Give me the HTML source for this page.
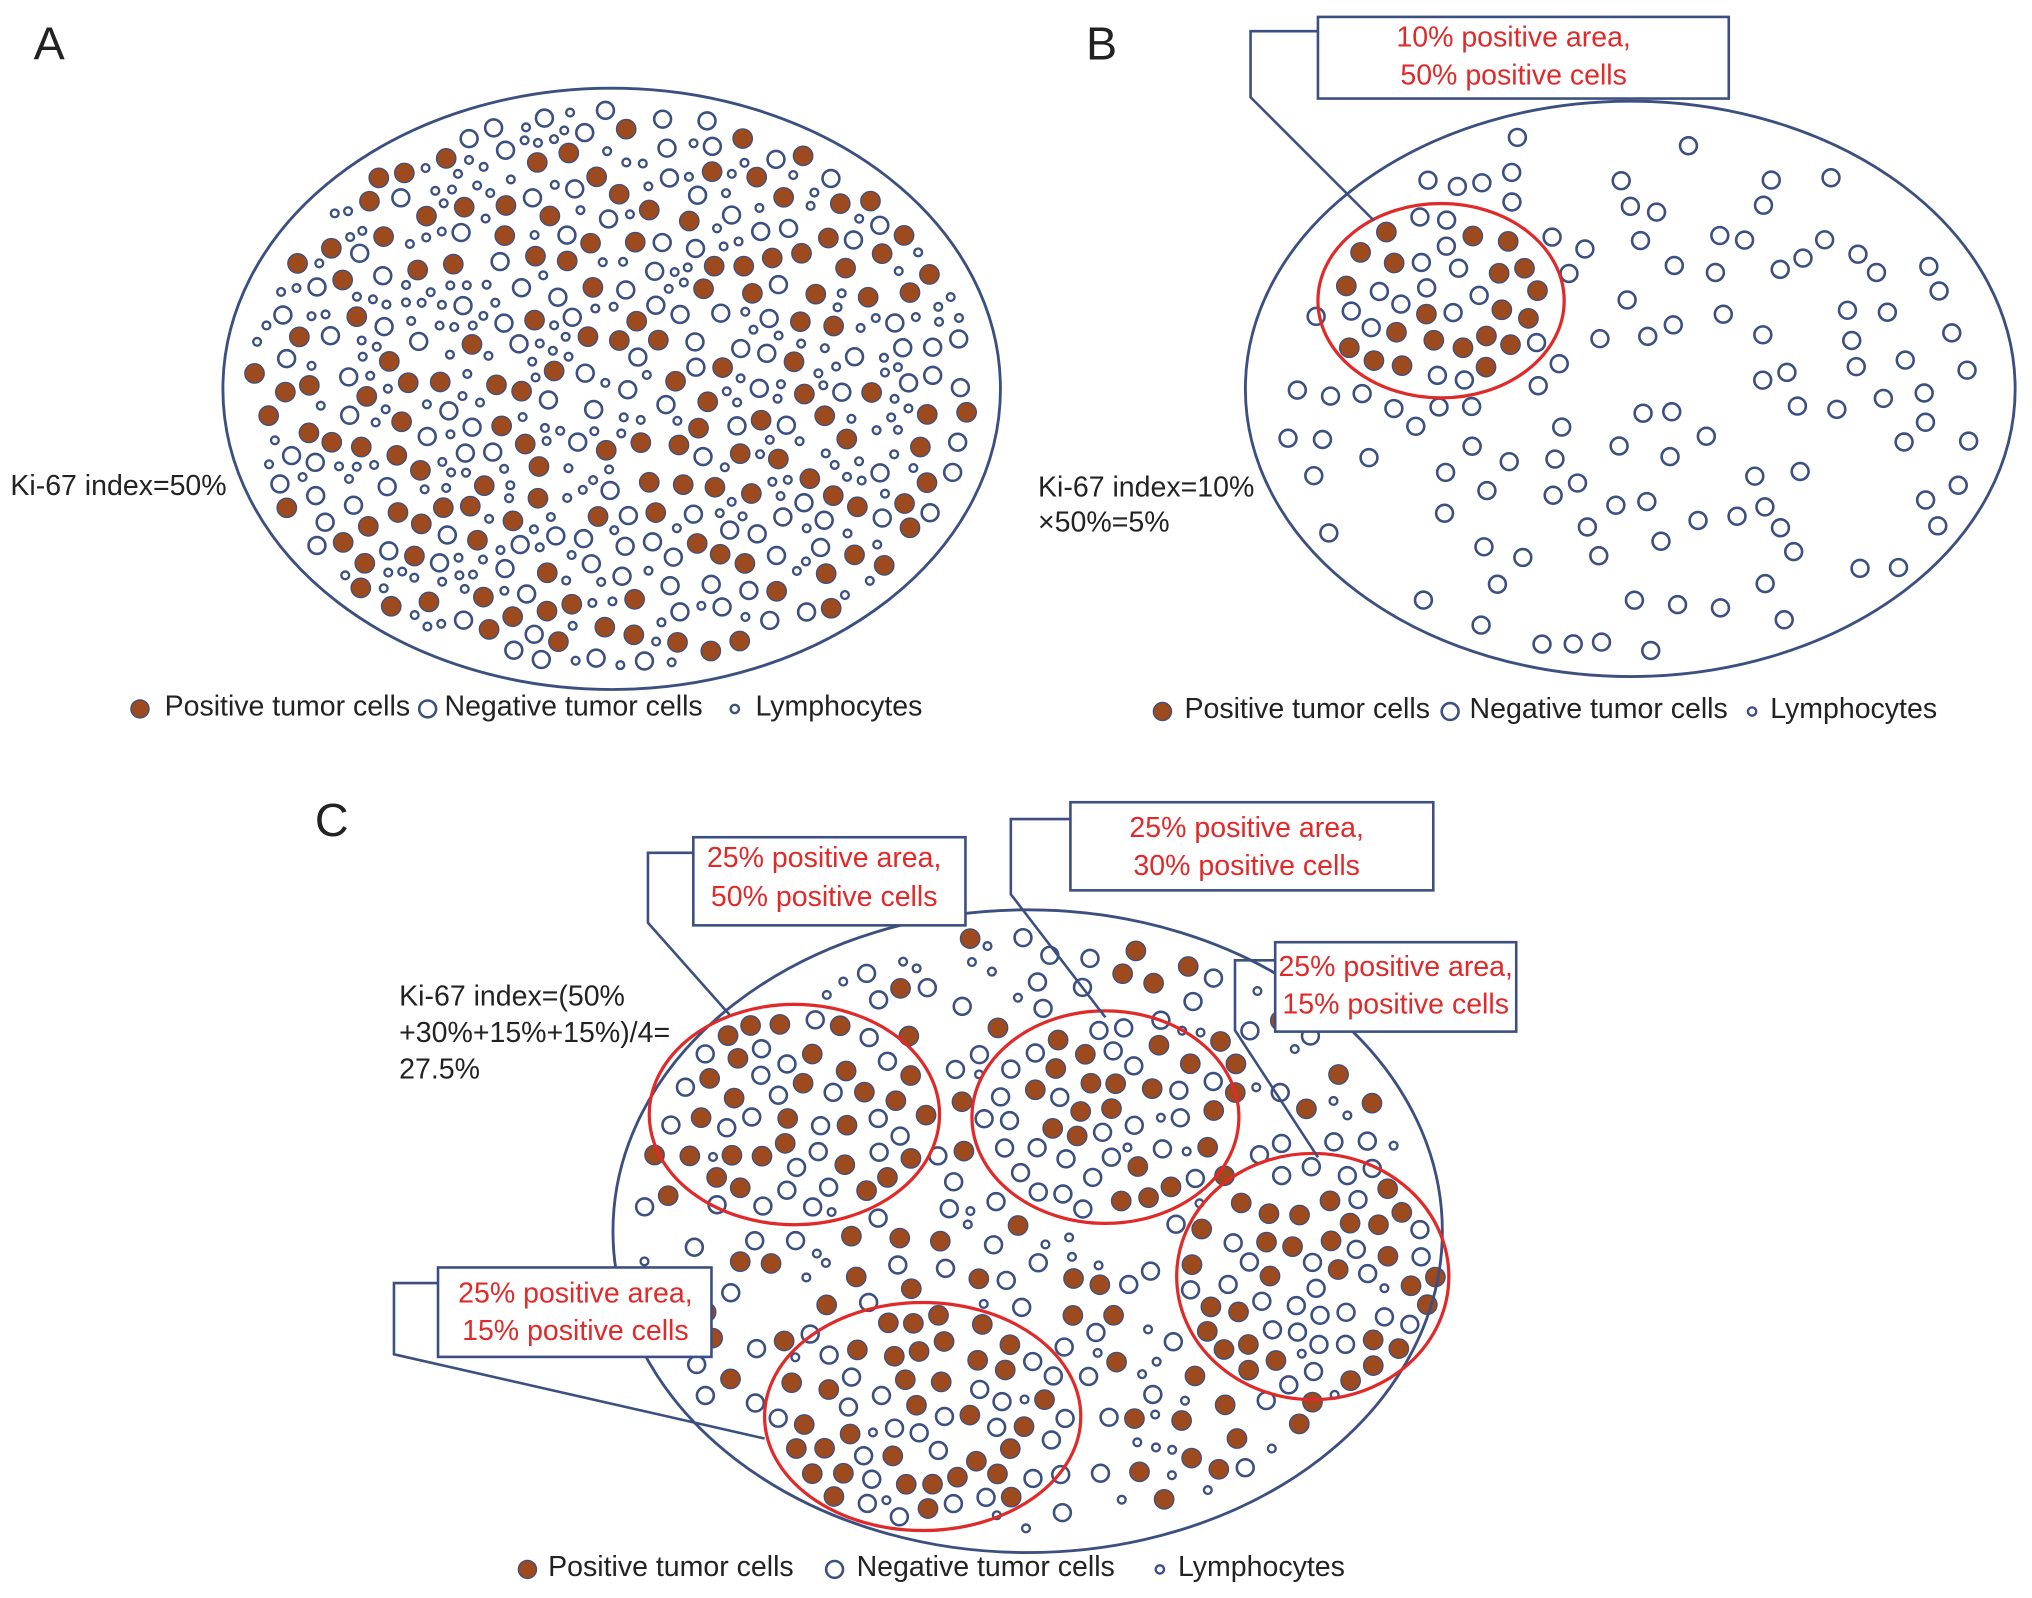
<!DOCTYPE html>
<html><head><meta charset="utf-8">
<style>
html,body{margin:0;padding:0;background:#fff;}
svg{display:block;}
text{font-family:"Liberation Sans",Arial,sans-serif;}
</style></head>
<body>
<svg id="s" xmlns="http://www.w3.org/2000/svg" width="2032" height="1598" viewBox="0 0 1568 1233">
<rect width="1568" height="1233" fill="#fff"/>
<g id="cells"></g>
<g fill="none" stroke="#3b5080" stroke-width="2.2">
<ellipse cx="472" cy="300" rx="300" ry="232"/>
<ellipse cx="1258" cy="300" rx="297" ry="222"/>
<ellipse cx="793" cy="950" rx="320" ry="248"/>
</g>
<g fill="none" stroke="#e02a2a" stroke-width="2.5">
<ellipse cx="1112" cy="232" rx="95" ry="75"/>
<ellipse cx="613" cy="860" rx="112" ry="85"/>
<ellipse cx="853" cy="862" rx="103" ry="82"/>
<ellipse cx="1013" cy="985" rx="105" ry="95"/>
<ellipse cx="712" cy="1093" rx="122" ry="88"/>
</g>
<g fill="#fff" stroke="#3b5080" stroke-width="2">
<rect x="1017" y="13" width="317" height="63"/>
<rect x="535" y="646" width="210" height="68"/>
<rect x="826" y="619" width="280" height="68"/>
<rect x="984" y="727" width="186" height="69"/>
<rect x="338" y="978" width="211" height="69"/>
</g>
<g fill="none" stroke="#3b5080" stroke-width="2">
<polyline points="1017,24 965,24 965,75 1060,170"/>
<polyline points="535,658 500,658 500,712 563,783"/>
<polyline points="826,632 780,632 780,690 853,785"/>
<polyline points="984,741 953,741 953,795 1017,893"/>
<polyline points="338,990 304,990 304,1045 590,1110"/>
</g>
<g fill="#e02a2a" font-size="22" text-anchor="middle">
<text x="1168" y="36">10% positive area,</text><text x="1168" y="65">50% positive cells</text>
<text x="636" y="669">25% positive area,</text><text x="636" y="699">50% positive cells</text>
<text x="962" y="646">25% positive area,</text><text x="962" y="675">30% positive cells</text>
<text x="1077" y="753">25% positive area,</text><text x="1077" y="782">15% positive cells</text>
<text x="444" y="1005">25% positive area,</text><text x="444" y="1034">15% positive cells</text>
</g>
<g fill="#222" font-size="22">
<text x="26" y="46" font-size="36">A</text>
<text x="838" y="46" font-size="36">B</text>
<text x="243" y="645" font-size="36">C</text>
<text x="8" y="382">Ki-67 index=50%</text>
<text x="801" y="383">Ki-67 index=10%</text>
<text x="801" y="410">×50%=5%</text>
<text x="308" y="776">Ki-67 index=(50%</text>
<text x="308" y="804">+30%+15%+15%)/4=</text>
<text x="308" y="832">27.5%</text>
<text x="127" y="552">Positive tumor cells</text>
<text x="343" y="552">Negative tumor cells</text>
<text x="583" y="552">Lymphocytes</text>
<text x="914" y="554">Positive tumor cells</text>
<text x="1134" y="554">Negative tumor cells</text>
<text x="1366" y="554">Lymphocytes</text>
<text x="423" y="1216">Positive tumor cells</text>
<text x="661" y="1216">Negative tumor cells</text>
<text x="909" y="1216">Lymphocytes</text>
</g>
<g>
<circle cx="108" cy="547" r="7" fill="#9c4a1e" stroke="#3b5080" stroke-width="1"/>
<circle cx="330" cy="547" r="6.5" fill="#fff" stroke="#3b5080" stroke-width="2"/>
<circle cx="567" cy="547" r="3.2" fill="#fff" stroke="#3b5080" stroke-width="1.8"/>
<circle cx="897" cy="549" r="7" fill="#9c4a1e" stroke="#3b5080" stroke-width="1"/>
<circle cx="1119" cy="549" r="6.5" fill="#fff" stroke="#3b5080" stroke-width="2"/>
<circle cx="1352" cy="549" r="3.2" fill="#fff" stroke="#3b5080" stroke-width="1.8"/>
<circle cx="407" cy="1211" r="7" fill="#9c4a1e" stroke="#3b5080" stroke-width="1"/>
<circle cx="644" cy="1211" r="6.5" fill="#fff" stroke="#3b5080" stroke-width="2"/>
<circle cx="895" cy="1211" r="3.2" fill="#fff" stroke="#3b5080" stroke-width="1.8"/>
</g>
</svg>
<script>
(function(){
var seed=12345;function rnd(){seed=(seed*1103515245+12345)%2147483648;return seed/2147483648;}
var g=document.getElementById('cells'),ns='http://www.w3.org/2000/svg',placed=[];
function ok(x,y,r){for(var i=0;i<placed.length;i++){var p=placed[i],dx=p[0]-x,dy=p[1]-y,m=p[2]+r+2;if(dx*dx+dy*dy<m*m)return false;}return true;}
function cell(x,y,t){var c=document.createElementNS(ns,'circle');c.setAttribute('cx',x.toFixed(1));c.setAttribute('cy',y.toFixed(1));
if(t==0){c.setAttribute('r',7.5);c.setAttribute('fill','#9c4a1e');c.setAttribute('stroke','#3b5080');c.setAttribute('stroke-width',1);}
else if(t==1){c.setAttribute('r',6.5);c.setAttribute('fill','#fff');c.setAttribute('stroke','#3b5080');c.setAttribute('stroke-width',2);}
else{c.setAttribute('r',3);c.setAttribute('fill','#fff');c.setAttribute('stroke','#3b5080');c.setAttribute('stroke-width',1.8);}
g.appendChild(c);}
function fill(cx,cy,rx,ry,n,probs,tries){var k=0,t=0;while(k<n&&t<tries){t++;var a=rnd()*2*Math.PI,r=Math.sqrt(rnd());var x=cx+Math.cos(a)*r*rx,y=cy+Math.sin(a)*r*ry;
var u=rnd(),ty=u<probs[0]?0:(u<probs[0]+probs[1]?1:2);var rr=ty==2?4:8.5;if(!ok(x,y,rr))continue;placed.push([x,y,rr]);cell(x,y,ty);k++;}}
fill(472,300,278,215,500,[0.44,0.42],20000);
fill(1112,232,85,66,70,[0.5,0.5],5000);
fill(1258,300,280,205,110,[0,1],20000);
fill(613,860,102,76,70,[0.5,0.5],5000);
fill(853,862,94,73,60,[0.45,0.55],5000);
fill(1013,985,95,86,70,[0.4,0.6],5000);
fill(712,1093,112,79,75,[0.5,0.5],5000);
fill(793,950,300,230,170,[0.3,0.45],20000);
})();
</script>
</body></html>
